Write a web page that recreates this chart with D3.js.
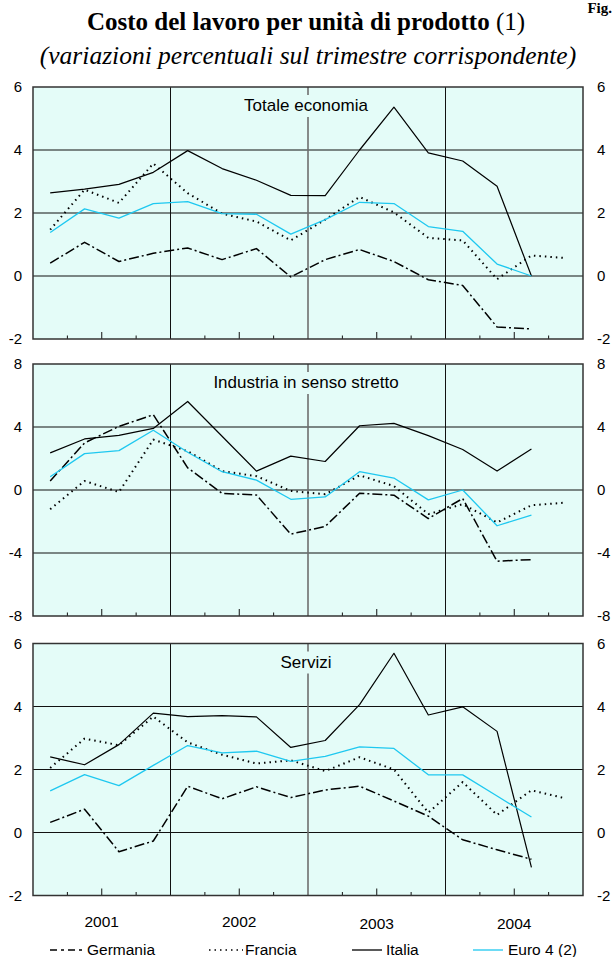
<!DOCTYPE html>
<html lang="it">
<head>
<meta charset="UTF-8">
<title>Costo del lavoro per unità di prodotto</title>
<script src="https://d3js.org/d3.v7.min.js"></script>
<style>
    body {margin: 0; background: #fff;}
    svg {display: block;}
</style>
</head>
<body>
<script>
    const width = 614;
    const height = 957;

    // quarters 2001 Q1 .. 2004 Q4
    const years = ["2001", "2002", "2003", "2004"];
    const nQuarters = 16;

    const panelTitles = ["Totale economia", "Industria in senso stretto", "Servizi"];
    const panelTicks = [[-2, 0, 2, 4, 6], [-8, -4, 0, 4, 8], [-2, 0, 2, 4, 6]];

    // Totale economia
    const germaniaTot = [0.41, 1.07, 0.46, 0.72, 0.89, 0.52, 0.87, -0.03, 0.52, 0.84, 0.46, -0.12, -0.3, -1.62, -1.68];
    const franciaTot  = [1.47, 2.74, 2.32, 3.57, 2.63, 1.98, 1.73, 1.13, 1.79, 2.51, 2.02, 1.21, 1.13, -0.1, 0.65, 0.57];
    const italiaTot   = [2.64, 2.76, 2.91, 3.29, 3.98, 3.41, 3.04, 2.56, 2.55, 4.0, 5.36, 3.91, 3.65, 2.85, 0.0];
    const euroTot     = [1.38, 2.13, 1.84, 2.3, 2.36, 1.98, 1.96, 1.33, 1.79, 2.34, 2.3, 1.57, 1.42, 0.38, 0.0];

    // Industria in senso stretto
    const germaniaInd = [0.57, 2.99, 4.04, 4.78, 1.41, -0.21, -0.32, -2.8, -2.31, -0.21, -0.33, -1.81, -0.54, -4.52, -4.42];
    const franciaInd  = [-1.22, 0.57, -0.13, 3.2, 2.46, 1.2, 0.88, -0.06, -0.27, 0.93, 0.25, -1.53, -0.9, -2.06, -0.97, -0.8];
    const italiaInd   = [2.36, 3.24, 3.47, 3.91, 5.62, 3.41, 1.2, 2.15, 1.81, 4.08, 4.23, 3.45, 2.57, 1.2, 2.61];
    const euroInd     = [0.84, 2.31, 2.5, 3.79, 2.4, 1.16, 0.63, -0.59, -0.44, 1.16, 0.76, -0.63, 0.0, -2.27, -1.6];

    // Servizi
    const germaniaSer = [0.32, 0.74, -0.61, -0.27, 1.47, 1.07, 1.45, 1.11, 1.35, 1.47, 1.0, 0.52, -0.23, -0.55, -0.85];
    const franciaSer  = [2.05, 2.98, 2.77, 3.68, 2.86, 2.47, 2.19, 2.29, 1.95, 2.39, 2.0, 0.63, 1.6, 0.56, 1.34, 1.08];
    const italiaSer   = [2.4, 2.15, 2.79, 3.79, 3.68, 3.71, 3.67, 2.7, 2.92, 4.06, 5.69, 3.73, 3.99, 3.21, -1.11];
    const euroSer     = [1.32, 1.84, 1.49, 2.13, 2.76, 2.53, 2.58, 2.26, 2.42, 2.72, 2.67, 1.83, 1.83, 1.16, 0.49];

    const seriesNames = ["Germania", "Francia", "Italia", "Euro 4 (2)"];
    const panelData = [
        [germaniaTot, franciaTot, italiaTot, euroTot],
        [germaniaInd, franciaInd, italiaInd, euroInd],
        [germaniaSer, franciaSer, italiaSer, euroSer]
    ];

    const styles = {
        "Germania":   {stroke: "#000", width: 1.5, dash: "10,3,2,3"},
        "Francia":    {stroke: "#000", width: 2,   dash: "1.5,4"},
        "Italia":     {stroke: "#000", width: 1.2, dash: null},
        "Euro 4 (2)": {stroke: "#1ec8f0", width: 1.3, dash: null}
    };

    const bg = "#e4fcf8";
    const left = 33, right = 583;
    const panelTops = [87, 364, 643.5];
    const panelH = 252;

    const svg = d3.select("body").append("svg")
            .attr("width", width).attr("height", height);

    const x = d3.scaleLinear().domain([0, nQuarters]).range([left, right]);

    // titles
    svg.append("text")
            .attr("x", 612).attr("y", 13)
            .attr("text-anchor", "end")
            .style("font-family", "'Liberation Serif', 'Times New Roman', serif")
            .style("font-weight", "bold").style("font-size", "15px")
            .text("Fig.");

    const title = svg.append("text")
            .attr("x", 306).attr("y", 30)
            .attr("text-anchor", "middle")
            .style("font-family", "'Liberation Serif', 'Times New Roman', serif")
            .style("font-size", "25px");
    title.append("tspan").style("font-weight", "bold").text("Costo del lavoro per unità di prodotto");
    title.append("tspan").text(" (1)");

    svg.append("text")
            .attr("x", 308).attr("y", 64)
            .attr("text-anchor", "middle")
            .style("font-family", "'Liberation Serif', 'Times New Roman', serif")
            .style("font-style", "italic").style("font-size", "25.5px")
            .text("(variazioni percentuali sul trimestre corrispondente)");

    panelData.forEach(function(series, p) {
        const top = panelTops[p];
        const ticks = panelTicks[p];
        const y = d3.scaleLinear()
                .domain([ticks[0], ticks[ticks.length - 1]])
                .range([top + panelH, top]);

        const g = svg.append("g").attr("class", "panel");

        g.append("rect")
                .attr("x", left).attr("y", top)
                .attr("width", right - left).attr("height", panelH)
                .style("fill", bg);

        // horizontal grid
        g.selectAll("line.hgrid")
                .data(ticks.slice(1, -1))
                .enter().append("line")
                .attr("class", "hgrid")
                .attr("x1", left).attr("x2", right)
                .attr("y1", d => y(d)).attr("y2", d => y(d))
                .style("stroke", "#111").style("stroke-width", 1);

        // year separators
        g.selectAll("line.vgrid")
                .data([4, 8, 12])
                .enter().append("line")
                .attr("class", "vgrid")
                .attr("x1", d => x(d)).attr("x2", d => x(d))
                .attr("y1", top).attr("y2", top + panelH)
                .style("stroke", d => d === 8 ? "#6e6e6e" : "#111")
                .style("stroke-width", d => d === 8 ? 1.6 : 1);

        // quarter ticks on the bottom
        g.selectAll("line.qtick")
                .data(d3.range(1, nQuarters).filter(d => d % 4 !== 0))
                .enter().append("line")
                .attr("class", "qtick")
                .attr("x1", d => x(d)).attr("x2", d => x(d))
                .attr("y1", top + panelH)
                .attr("y2", d => top + panelH - (d % 2 === 0 ? 7 : 3.5))
                .style("stroke", "#111").style("stroke-width", 1);

        // panel label with background box
        const lab = g.append("text")
                .attr("x", 306).attr("y", top + 24)
                .attr("text-anchor", "middle")
                .style("font-family", "'Liberation Sans', Arial, sans-serif")
                .style("font-size", "17px")
                .text(panelTitles[p]);
        const bb = lab.node().getBBox();
        g.insert("rect", "text")
                .attr("x", bb.x - 3).attr("y", bb.y - 1)
                .attr("width", bb.width + 6).attr("height", bb.height + 3)
                .style("fill", bg);

        // series
        series.forEach(function(values, s) {
            const st = styles[seriesNames[s]];
            const line = d3.line()
                    .x((d, i) => x(i + 0.5))
                    .y(d => y(d));
            g.append("path")
                    .datum(values)
                    .attr("d", line)
                    .style("fill", "none")
                    .style("stroke", st.stroke)
                    .style("stroke-width", st.width)
                    .style("stroke-dasharray", st.dash)
                    .style("stroke-linejoin", "round");
        });

        // frame
        g.append("rect")
                .attr("x", left).attr("y", top)
                .attr("width", right - left).attr("height", panelH)
                .style("fill", "none")
                .style("stroke", "#333").style("stroke-width", 1.5);

        // y labels both sides
        const labFont = "'Liberation Sans', Arial, sans-serif";
        g.selectAll("text.yl")
                .data(ticks)
                .enter().append("text")
                .attr("class", "yl")
                .attr("x", 22).attr("y", d => y(d)).attr("dy", "0.35em")
                .attr("text-anchor", "end")
                .style("font-family", labFont).style("font-size", "15px")
                .text(d => d);
        g.selectAll("text.yr")
                .data(ticks)
                .enter().append("text")
                .attr("class", "yr")
                .attr("x", 597).attr("y", d => y(d)).attr("dy", "0.35em")
                .attr("text-anchor", "start")
                .style("font-family", labFont).style("font-size", "15px")
                .text(d => d);
    });

    // year labels
    svg.selectAll("text.year")
            .data(years)
            .enter().append("text")
            .attr("class", "year")
            .attr("x", (d, i) => x(i * 4 + 2))
            .attr("y", (d, i) => i < 2 ? 927 : 929)
            .attr("text-anchor", "middle")
            .style("font-family", "'Liberation Sans', Arial, sans-serif")
            .style("font-size", "15.5px")
            .text(d => d);

    // legend
    const legendPos = [
        {x1: 50, x2: 85, tx: 87},
        {x1: 209, x2: 243, tx: 245},
        {x1: 352, x2: 382, tx: 386},
        {x1: 473, x2: 503, tx: 508}
    ];
    const legend = svg.append("g").attr("class", "legend");
    seriesNames.forEach(function(name, i) {
        const st = styles[name];
        const lp = legendPos[i];
        legend.append("line")
                .attr("x1", lp.x1).attr("x2", lp.x2)
                .attr("y1", 950).attr("y2", 950)
                .style("stroke", st.stroke)
                .style("stroke-width", name === "Francia" ? 1.5 : 1.3)
                .style("stroke-dasharray", name === "Germania" ? "7,4,3,4" : st.dash);
        legend.append("text")
                .attr("x", lp.tx).attr("y", 955)
                .style("font-family", "'Liberation Sans', Arial, sans-serif")
                .style("font-size", "15.5px")
                .text(name);
    });
</script>
</body>
</html>
